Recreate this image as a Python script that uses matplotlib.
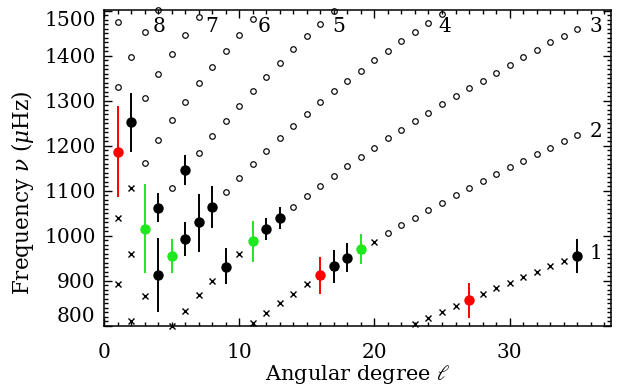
import matplotlib
matplotlib.use("Agg")
import matplotlib.pyplot as plt
from matplotlib.ticker import MultipleLocator

plt.rcParams['font.family'] = ['DejaVu Serif']
plt.rcParams['mathtext.fontset'] = 'dejavuserif'

# ---- model ridges: degree l, frequency (muHz); crosses / circles ----
r1_cross_l = [23, 24, 25, 26, 27, 28, 29, 30, 31, 32, 33, 34, 35]
r1_cross_f = [805, 817, 831, 844, 858, 871, 884, 896, 908, 921, 933, 944, 956]

r2_cross_l = [11, 12, 13, 14, 15, 16, 17, 18, 19, 20]
r2_cross_f = [807, 828, 850, 871, 893, 912, 932, 951, 969, 987]
r2_circ_l = [21, 22, 23, 24, 25, 26, 27, 28, 29, 30, 31, 32, 33, 34, 35]
r2_circ_f = [1006, 1024, 1041, 1058, 1074, 1091, 1106, 1122, 1138, 1153, 1167, 1182, 1196, 1211, 1224]

r3_cross_l = [5, 6, 7, 8, 9, 10, 11, 12, 13]
r3_cross_f = [801, 834, 868, 900, 931, 960, 989, 1015, 1041]
r3_circ_l = [14, 15, 16, 17, 18, 19, 20, 21, 22, 23, 24, 25, 26, 27, 28, 29, 30, 31, 32, 33, 34, 35]
r3_circ_f = [1064, 1088, 1112, 1134, 1156, 1176, 1196, 1217, 1236, 1256, 1274, 1293, 1310, 1328,
             1345, 1363, 1380, 1397, 1413, 1430, 1445, 1460]

r4_cross_l = [2, 3, 4, 5, 6, 7, 8]
r4_cross_f = [811, 867, 913, 956, 993, 1030, 1064]
r4_circ_l = [9, 10, 11, 12, 13, 14, 15, 16, 17, 18, 19, 20, 21, 22, 23, 24, 25]
r4_circ_f = [1097, 1128, 1159, 1189, 1217, 1244, 1272, 1297, 1322, 1344, 1367, 1390, 1412, 1433,
             1454, 1474, 1493]

r5_cross_l = [1, 2, 3, 4]
r5_cross_f = [893, 960, 1016, 1063]
r5_circ_l = [5, 6, 7, 8, 9, 10, 11, 12, 13, 14, 15, 16, 17]
r5_circ_f = [1107, 1147, 1185, 1221, 1256, 1289, 1323, 1354, 1385, 1415, 1444, 1471, 1500]

r6_cross_l = [1, 2]
r6_cross_f = [1041, 1106]
r6_circ_l = [3, 4, 5, 6, 7, 8, 9, 10, 11]
r6_circ_f = [1163, 1213, 1258, 1298, 1339, 1375, 1412, 1447, 1481]

r7_circ_l = [1, 2, 3, 4, 5, 6, 7]
r7_circ_f = [1187, 1253, 1307, 1360, 1404, 1447, 1487]

r8_circ_l = [1, 2, 3, 4]
r8_circ_f = [1332, 1397, 1454, 1501]

r9_circ_l = [1]
r9_circ_f = [1476]

# ---- observed modes with error bars ----
red_l = [1, 16, 27]
red_f = [1187, 913, 858]
red_lo = [1087, 871, 818]
red_hi = [1289, 954, 896]

blk_l = [2, 4, 4, 6, 6, 7, 8, 9, 12, 13, 17, 18, 35]
blk_f = [1253, 1063, 913, 1147, 993, 1030, 1064, 932, 1015, 1041, 933, 951, 956]
blk_lo = [1187, 1032, 832, 1113, 956, 965, 1018, 893, 990, 1016, 896, 921, 918]
blk_hi = [1318, 1095, 996, 1180, 1031, 1093, 1110, 973, 1039, 1065, 969, 984, 993]

grn_l = [3, 5, 11, 19]
grn_f = [1016, 956, 989, 970]
grn_lo = [917, 918, 942, 937]
grn_hi = [1116, 993, 1034, 1004]

# ridge labels
lab_text = ['8', '7', '6', '5', '4', '3', '2', '1']
lab_l = [4.1, 7.95, 11.85, 17.35, 25.2, 36.4, 36.4, 36.4]
lab_f = [1465, 1465, 1465, 1465, 1465, 1465, 1233, 960]

fig = plt.figure(figsize=(6.19, 3.90), dpi=100)
ax = fig.add_axes([104/619, 64/390, 507/619, 316/390])

cross_l = r1_cross_l + r2_cross_l + r3_cross_l + r4_cross_l + r5_cross_l + r6_cross_l
cross_f = r1_cross_f + r2_cross_f + r3_cross_f + r4_cross_f + r5_cross_f + r6_cross_f
circ_l = r2_circ_l + r3_circ_l + r4_circ_l + r5_circ_l + r6_circ_l + r7_circ_l + r8_circ_l + r9_circ_l
circ_f = r2_circ_f + r3_circ_f + r4_circ_f + r5_circ_f + r6_circ_f + r7_circ_f + r8_circ_f + r9_circ_f

ax.plot(cross_l, cross_f, 'x', color='black', ms=4.3, mew=1.0, ls='none', clip_on=False, zorder=2)
ax.plot(circ_l, circ_f, 'o', mfc='none', mec='black', ms=4.0, mew=0.85, ls='none', clip_on=False, zorder=2)

def ebar(ls, fs, lo, hi, col):
    yerr = [[f - a for f, a in zip(fs, lo)], [b - f for f, b in zip(fs, hi)]]
    ax.errorbar(ls, fs, yerr=yerr, fmt='o', color=col, ecolor=col, ms=7.5, mew=0,
                elinewidth=1.4, capsize=2.6, capthick=1.4, zorder=3)

ebar(red_l, red_f, red_lo, red_hi, '#ff0000')
ebar(blk_l, blk_f, blk_lo, blk_hi, 'black')
ebar(grn_l, grn_f, grn_lo, grn_hi, '#1ee81e')

for t, x, y in zip(lab_text, lab_l, lab_f):
    ax.text(x, y, t, fontsize=14.5, ha='center', va='center')

ax.set_xlim(0, 37.5)
ax.set_ylim(800, 1502)
ax.xaxis.set_major_locator(MultipleLocator(10))
ax.xaxis.set_minor_locator(MultipleLocator(1))
ax.yaxis.set_major_locator(MultipleLocator(100))
ax.yaxis.set_minor_locator(MultipleLocator(10))
ax.tick_params(which='both', direction='in', top=True, right=True, width=1.0)
ax.tick_params(which='major', length=6)
ax.tick_params(which='minor', length=3)
ax.tick_params(axis='x', which='major', pad=12, labelsize=14.5)
ax.tick_params(axis='y', which='major', pad=6, labelsize=14.5)
for s in ax.spines.values():
    s.set_linewidth(1.1)

ax.set_xlabel(r'Angular degree $\ell$', fontsize=15, labelpad=1)
ax.set_ylabel(r'Frequency $\nu$ ($\mu$Hz)', fontsize=15.5, labelpad=8)
ax.yaxis.set_label_coords(-0.135, 0.42)

fig.canvas.draw()
ylabs = ax.get_yticklabels()
vis = [t for t in ylabs if 800 <= t.get_position()[1] <= 1502]
if vis:
    vis[0].set_va('bottom')
    vis[-1].set_va('top')

fig.savefig('out.png', dpi=100)
